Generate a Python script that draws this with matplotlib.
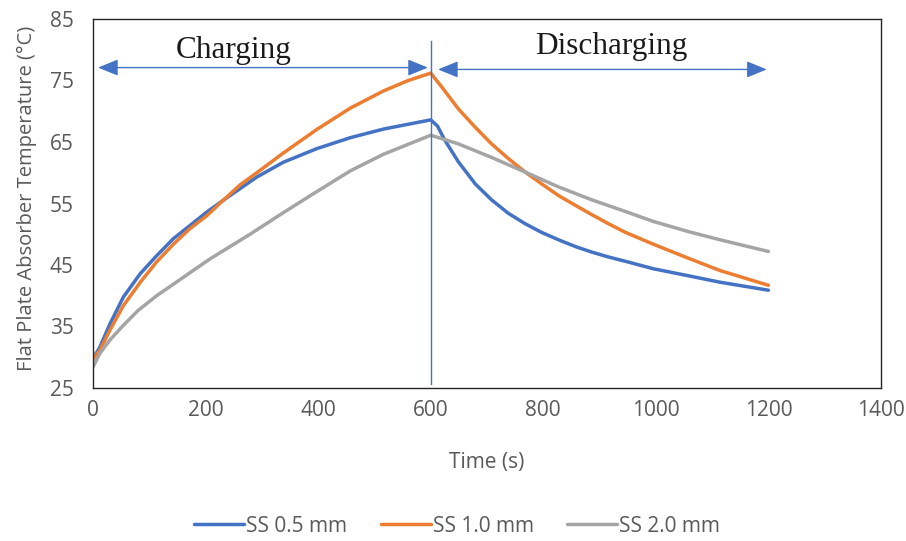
import matplotlib
matplotlib.use('Agg')
import matplotlib.pyplot as plt

# Data (time in s, temperature in degC)
t_05 = [0, 12, 30, 54, 84, 113, 143, 172, 202, 231, 261, 291, 338, 397, 457, 516, 600,
        612, 625, 649, 679, 708, 738, 768, 797, 827, 857, 886, 916, 946, 995, 1055, 1114, 1200]
ss_05 = [29.8, 31.6, 35.4, 39.8, 43.6, 46.5, 49.3, 51.4, 53.6, 55.5, 57.4, 59.3, 61.7, 63.9, 65.7, 67.1, 68.6,
         67.6, 65.3, 61.8, 58.2, 55.6, 53.4, 51.7, 50.3, 49.1, 48.0, 47.1, 46.3, 45.6, 44.4, 43.3, 42.2, 40.9]

t_10 = [0, 12, 30, 54, 84, 113, 143, 172, 202, 231, 261, 291, 338, 397, 457, 516, 560, 600,
        620, 649, 679, 708, 738, 768, 797, 827, 857, 886, 916, 946, 995, 1055, 1114, 1200]
ss_10 = [29.8, 31.1, 34.4, 38.4, 42.2, 45.5, 48.4, 50.9, 53.0, 55.5, 58.0, 60.0, 63.2, 67.0, 70.5, 73.3, 75.0, 76.2,
         73.9, 70.4, 67.4, 64.7, 62.3, 60.1, 58.2, 56.3, 54.7, 53.2, 51.7, 50.3, 48.4, 46.2, 44.1, 41.7]

t_20 = [0, 12, 30, 54, 80, 113, 208, 279, 338, 397, 457, 516, 600,
        649, 708, 768, 827, 886, 946, 995, 1055, 1114, 1200]
ss_20 = [28.4, 30.6, 32.8, 35.2, 37.6, 40.0, 46.0, 50.0, 53.5, 56.9, 60.3, 63.0, 66.1,
         64.7, 62.5, 60.1, 57.7, 55.6, 53.7, 52.1, 50.5, 49.1, 47.2]

series_labels = ['SS 0.5 mm', 'SS 1.0 mm', 'SS 2.0 mm']
series_colors = ['#4472C4', '#ED7D31', '#A5A5A5']

x_ticks = [0, 200, 400, 600, 800, 1000, 1200, 1400]
y_ticks = [25, 35, 45, 55, 65, 75, 85]

plt.rcParams['font.family'] = ['Open Sans', 'DejaVu Sans']
text_gray = '#595959'

fig = plt.figure(figsize=(9.06, 5.41), dpi=100)
ax = fig.add_axes([93 / 906, 1 - 388 / 541, (881 - 93) / 906, (388 - 19) / 541])

for t, v, lab, c in zip([t_05, t_10, t_20], [ss_05, ss_10, ss_20], series_labels, series_colors):
    ax.plot(t, v, color=c, lw=2.5, label=lab, solid_joinstyle='round', solid_capstyle='round')

# charging / discharging divider and arrows
ax.plot([600, 600], [25.6, 81.5], color='#4472C4', lw=1.0)
arrow = dict(arrowstyle='<|-|>,head_length=0.44,head_width=0.18', color='#4472C4', lw=1.0,
             mutation_scale=28, shrinkA=0, shrinkB=0)
ax.annotate('', xy=(595, 77.1), xytext=(9, 77.1), arrowprops=arrow)
ax.annotate('', xy=(1197, 76.8), xytext=(613, 76.8), arrowprops=arrow)
ax.text(250, 78.6, 'Charging', family='Liberation Serif', fontsize=22.5, ha='center', va='baseline', color='#1a1a1a')
ax.text(920, 79.3, 'Discharging', family='Liberation Serif', fontsize=22.5, ha='center', va='baseline', color='#1a1a1a')

ax.set_xlim(0, 1400)
ax.set_ylim(25, 85)
ax.set_xticks(x_ticks)
ax.set_yticks(y_ticks)
ax.tick_params(length=0, labelsize=15, labelcolor=text_gray)
ax.tick_params(axis='x', pad=9)
ax.tick_params(axis='y', pad=14)
for s in ax.spines.values():
    s.set_color('#262626')
    s.set_linewidth(1.0)

ax.set_xlabel('Time (s)', fontsize=15, color=text_gray, labelpad=22)
ax.set_ylabel('Flat Plate Absorber Temperature (°C)', fontsize=14.5, color=text_gray)
ax.yaxis.set_label_coords(-0.071, 0.513)

fig.legend(loc='center', bbox_to_anchor=(457 / 906, 1 - 526 / 541), ncol=3, frameon=False,
           fontsize=15, handlelength=2.4, handletextpad=0.1, columnspacing=1.6, labelcolor=text_gray)

fig.savefig('out.png', dpi=100)
